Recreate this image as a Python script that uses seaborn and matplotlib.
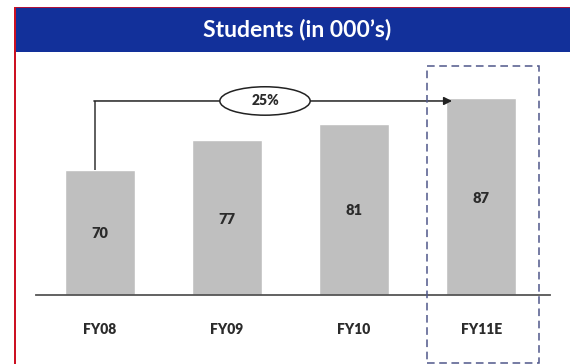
import matplotlib
matplotlib.use("Agg")
import matplotlib.pyplot as plt
from matplotlib.patches import Rectangle, Ellipse
import seaborn as sns
import pandas as pd

categories = ["FY08", "FY09", "FY10", "FY11E"]
students = [70, 77, 81, 87]
growth_label = "25%"
title = "Students (in 000\u2019s)"

sns.set_theme(style="white")
plt.rcParams["font.family"] = ["Lato", "DejaVu Sans"]

W, H = 574, 364
fig = plt.figure(figsize=(W / 100, H / 100), dpi=100)
fig.patch.set_facecolor("white")

# axes placement (pixels)
ax_left, ax_right, ax_top, ax_bottom = 36, 550, 60, 295
ax = fig.add_axes([ax_left / W, (H - ax_bottom) / H,
                   (ax_right - ax_left) / W, (ax_bottom - ax_top) / H])

df = pd.DataFrame({"year": categories, "students": students})
sns.barplot(data=df, x="year", y="students", order=categories,
            color="#bfbfbf", saturation=1, width=0.55, ax=ax)

ax.set_xlim(-0.5, 3.54)
ax.set_ylim(40, 96.2)
ax.set_yticks([])
ax.set_xlabel("")
ax.set_ylabel("")
for s in ["top", "left", "right"]:
    ax.spines[s].set_visible(False)
ax.spines["bottom"].set_color("#555555")
ax.spines["bottom"].set_linewidth(1.3)
ax.tick_params(axis="x", length=0, pad=20)
for lab in ax.get_xticklabels():
    lab.set_fontweight("heavy")
    lab.set_fontsize(10)
    lab.set_color("#2b2b2b")

# value labels at middle of bars
for i, v in enumerate(students):
    ax.text(i, (40 + v) / 2 - 0.4, f"{v}", ha="center", va="center",
            fontsize=10.5, fontweight="heavy", color="#2b2b2b")

# growth arrow
y_arrow = 86.4
x_start = -0.04
x_end = len(categories) - 1 - 0.23
ax.plot([x_start, x_start], [students[0], y_arrow], color="#333333", lw=1.1,
        solid_capstyle="butt")
ax.annotate("", xy=(x_end, y_arrow), xytext=(x_start - 0.005, y_arrow),
            arrowprops=dict(arrowstyle="-|>", color="#222222", lw=1.1,
                            mutation_scale=12, shrinkA=0, shrinkB=0))
ell = Ellipse((1.3, y_arrow), 0.71, 6.8, facecolor="white",
              edgecolor="#222222", lw=1.1, zorder=5)
ax.add_patch(ell)
ax.text(1.3, y_arrow, growth_label, ha="center", va="center", fontsize=10,
        fontweight="heavy", color="#2b2b2b", zorder=6)

# dashed highlight box around the last category
last = len(categories) - 1
box = Rectangle((last - 0.425, 23.8), 0.875, 94.8 - 23.8, fill=False,
                edgecolor="#50578a", lw=1.1, linestyle=(0, (5, 3)),
                clip_on=False, zorder=4)
ax.add_patch(box)

# title band and red frame lines
band_top, band_bottom = 8, 52
fig.patches.append(Rectangle((14 / W, (H - band_bottom) / H), (570 - 14) / W,
                             (band_bottom - band_top) / H,
                             transform=fig.transFigure, facecolor="#12309a",
                             edgecolor="none", zorder=0))
fig.patches.append(Rectangle((14 / W, (H - 8) / H), (570 - 14) / W, 1.5 / H,
                             transform=fig.transFigure, facecolor="#b0123a",
                             edgecolor="none", zorder=1))
fig.patches.append(Rectangle((13.5 / W, 0), 2 / W, (H - 7) / H,
                             transform=fig.transFigure, facecolor="#cc1122",
                             edgecolor="none", zorder=1))
fig.text(297 / W, (H - 30) / H, title, ha="center", va="center",
         color="white", fontsize=16.5, fontweight="bold")

fig.savefig("out.png", dpi=100)
